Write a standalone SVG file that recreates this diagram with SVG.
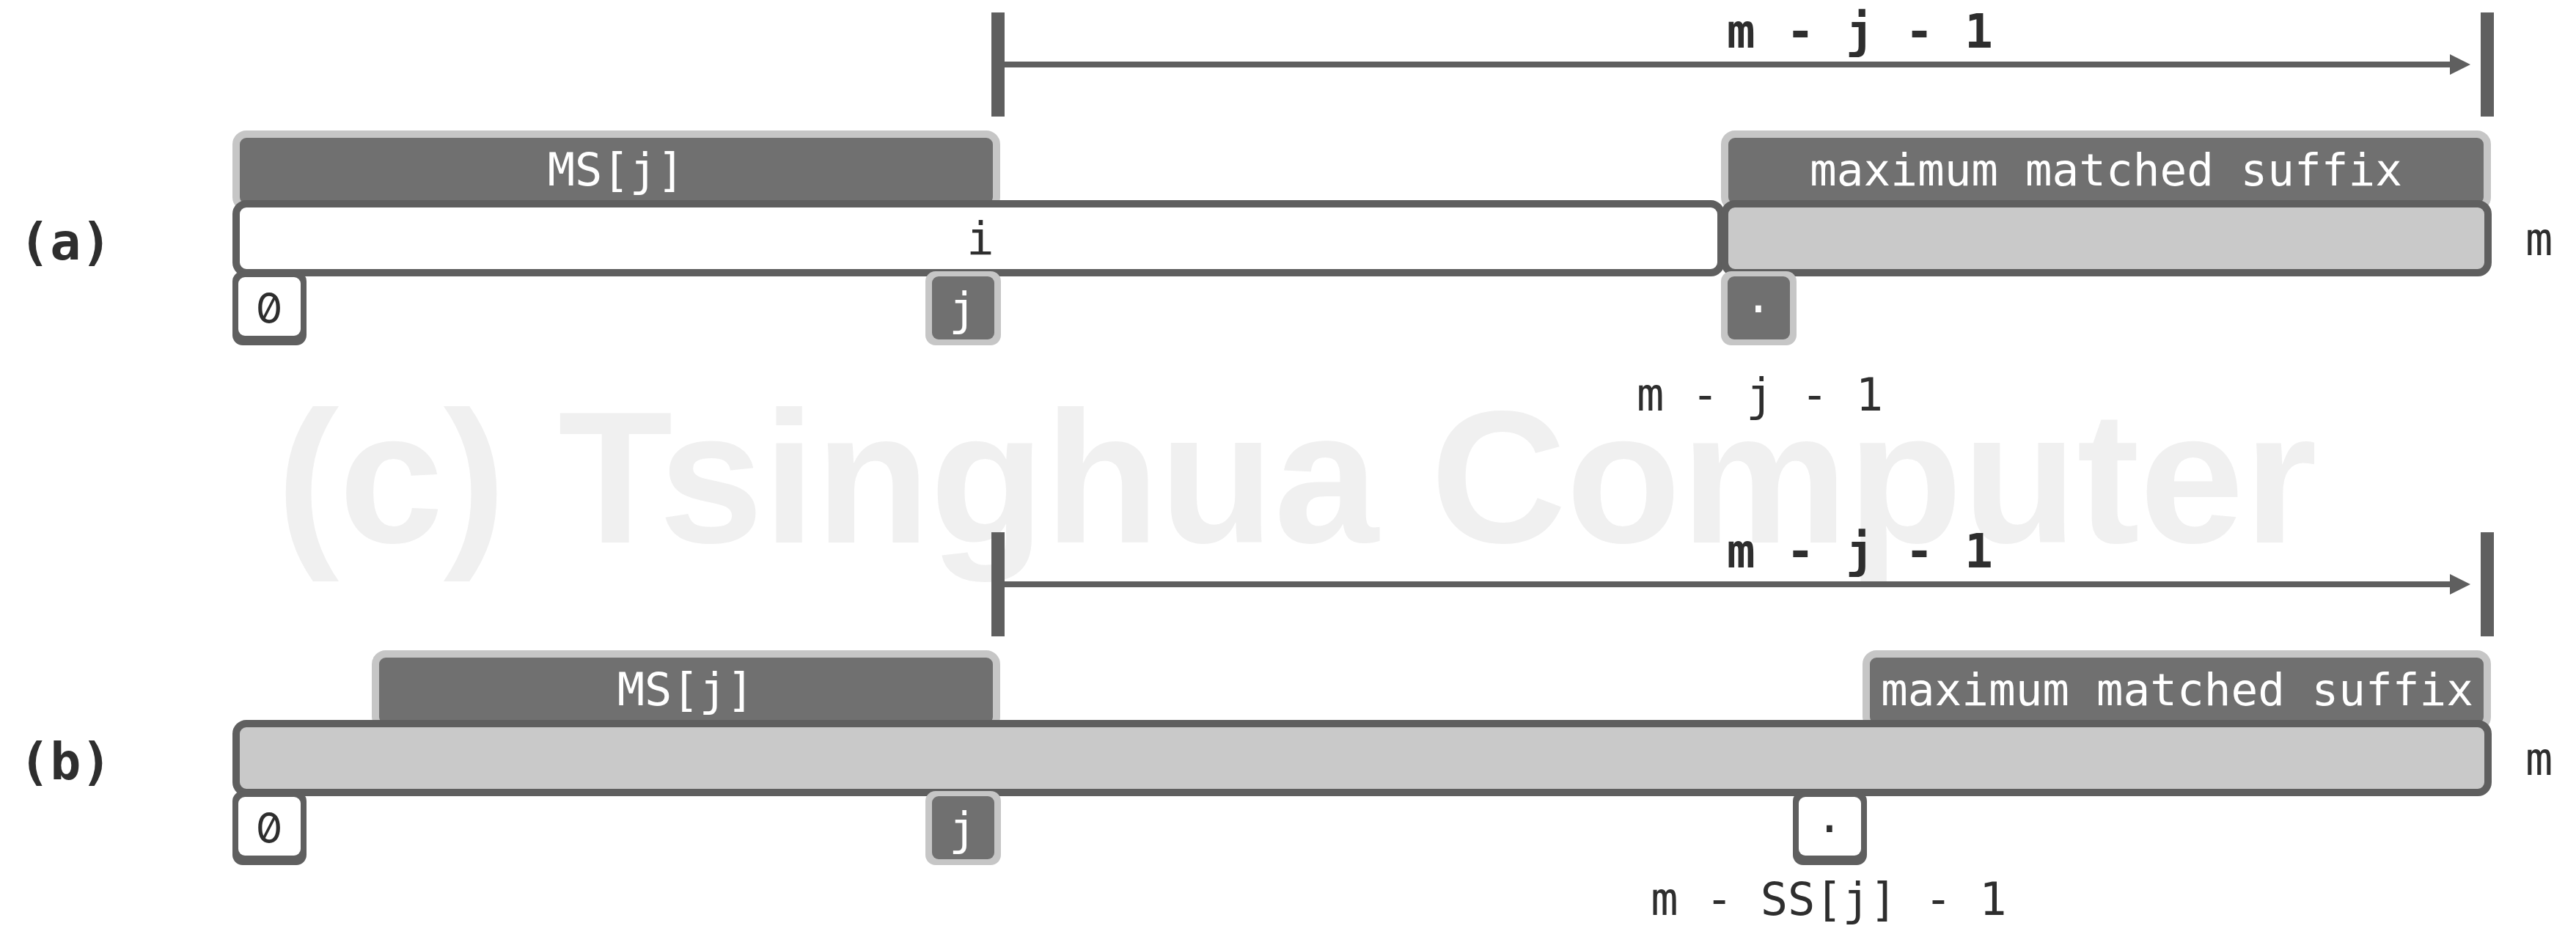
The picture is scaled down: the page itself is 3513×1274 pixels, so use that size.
<svg xmlns="http://www.w3.org/2000/svg" width="3513" height="1274" viewBox="0 0 3513 1274">
<style>
.t{font-family:"DejaVu Sans Mono","Liberation Mono",monospace;font-size:62px;fill:#2e2e2e}
.w{fill:#ffffff}
.b{font-weight:bold}
.big{font-size:64px;letter-spacing:2px}
.m{text-anchor:middle}
.sm{font-size:61px}
.z{font-family:Inter,"DejaVu Sans Mono",sans-serif;font-feature-settings:"zero" 1;font-size:58px}
.dk{fill:#707070;stroke:#c6c6c6;stroke-width:10}
.bar{stroke:#5f5f5f;stroke-width:10}
.sd{fill:#5f5f5f}
.sl{fill:#c6c6c6}
.fd{fill:#707070}
.fw{fill:#ffffff}
.v{stroke:#5f5f5f;stroke-width:18}
.ar{stroke:#5f5f5f;stroke-width:8;fill:none}
.wm{font-family:"Liberation Sans",Arial,sans-serif;font-weight:bold;font-size:256px;fill:#f0f0f0}
</style>
<defs>
<marker id="ah" markerUnits="userSpaceOnUse" markerWidth="30" markerHeight="30" refX="2" refY="14" orient="auto">
<path d="M0,0 L28,14 L0,28 z" fill="#5f5f5f"/>
</marker>
</defs>
<rect width="3513" height="1274" fill="#ffffff"/>
<text class="wm" x="377" y="740">(c) Tsinghua Computer</text>

<g id="connectors">
<line class="v" x1="1361" y1="17" x2="1361" y2="159"/>
<line class="v" x1="3392" y1="17" x2="3392" y2="159"/>
<line class="ar" x1="1361" y1="88" x2="3343" y2="88" marker-end="url(#ah)"/>
<line class="v" x1="1361" y1="726" x2="1361" y2="868"/>
<line class="v" x1="3392" y1="726" x2="3392" y2="868"/>
<line class="ar" x1="1361" y1="797" x2="3343" y2="797" marker-end="url(#ah)"/>
</g>

<g id="label-a"><text class="t b" x="26" y="354" style="font-size:70px">(a)</text></g>
<g id="label-b"><text class="t b" x="26" y="1063" style="font-size:70px">(b)</text></g>

<g id="a-dist"><text class="t b big" x="2355" y="65">m - j - 1</text></g>
<g id="a-ms"><rect class="dk" x="322" y="183" width="1037" height="100" rx="14"/><text class="t w m" x="840" y="253">MS[j]</text></g>
<g id="a-mms"><rect class="dk" x="2352" y="183" width="1040" height="100" rx="14"/><text class="t w m sm" x="2872" y="253">maximum matched suffix</text></g>
<g id="a-bar-i"><rect class="bar" x="322" y="278" width="2025" height="94" rx="14" fill="#ffffff"/><text class="t m" x="1337" y="347">i</text></g>
<g id="a-bar-suffix"><rect class="bar" x="2352" y="278" width="1041" height="94" rx="14" fill="#c9c9c9"/></g>
<g id="a-m"><text class="t" x="3444" y="348">m</text></g>
<g id="a-0"><rect class="sd" x="317" y="370" width="101" height="101" rx="14"/><rect class="fw" x="325" y="378" width="85" height="80" rx="9"/><text class="t m z" x="367" y="441">0</text></g>
<g id="a-j"><rect class="sl" x="1262" y="370" width="103" height="101" rx="14"/><rect class="fd" x="1271" y="377" width="85" height="86" rx="9"/><text class="t w m" x="1313" y="443">j</text></g>
<g id="a-dot"><rect class="sl" x="2347" y="370" width="103" height="101" rx="14"/><rect class="fd" x="2356" y="377" width="85" height="86" rx="9"/><text class="t w m" x="2398" y="443">·</text></g>
<g id="a-pos"><text class="t m" x="2400" y="560">m - j - 1</text></g>

<g id="b-dist"><text class="t b big" x="2355" y="774">m - j - 1</text></g>
<g id="b-ms"><rect class="dk" x="512" y="892" width="847" height="100" rx="14"/><text class="t w m" x="935" y="962">MS[j]</text></g>
<g id="b-mms"><rect class="dk" x="2545" y="892" width="847" height="100" rx="14"/><text class="t w m sm" x="2969" y="962">maximum matched suffix</text></g>
<g id="b-bar"><rect class="bar" x="322" y="987" width="3071" height="94" rx="14" fill="#c9c9c9"/></g>
<g id="b-m"><text class="t" x="3444" y="1057">m</text></g>
<g id="b-0"><rect class="sd" x="317" y="1079" width="101" height="101" rx="14"/><rect class="fw" x="325" y="1087" width="85" height="80" rx="9"/><text class="t m z" x="367" y="1150">0</text></g>
<g id="b-j"><rect class="sl" x="1262" y="1079" width="103" height="101" rx="14"/><rect class="fd" x="1271" y="1086" width="85" height="86" rx="9"/><text class="t w m" x="1313" y="1152">j</text></g>
<g id="b-dot"><rect class="sd" x="2445" y="1079" width="101" height="101" rx="14"/><rect class="fw" x="2453" y="1087" width="85" height="80" rx="9"/><text class="t m" x="2495" y="1152">·</text></g>
<g id="b-pos"><text class="t m" x="2494" y="1248">m - SS[j] - 1</text></g>
</svg>
